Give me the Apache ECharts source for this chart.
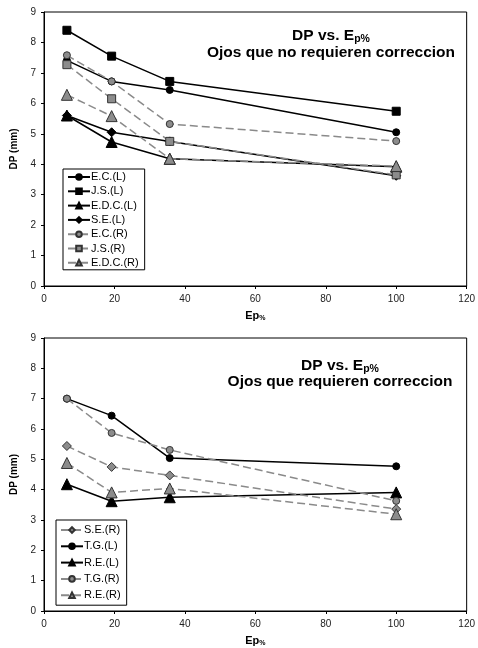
<!DOCTYPE html>
<html>
<head>
<meta charset="utf-8">
<script src="https://cdn.jsdelivr.net/npm/echarts@6/dist/echarts.min.js"></script>
<style>html,body{margin:0;padding:0;background:#fff}#c{width:478px;height:648px}</style>
</head>
<body>
<div id="c"></div>
<script>
// Shared x positions (Ep%)
var epX = [6.5, 19.2, 35.7, 100];
var xTicks = [0, 20, 40, 60, 80, 100, 120];
var yTicks = [0, 1, 2, 3, 4, 5, 6, 7, 8, 9];

// Top chart: Ojos que no requieren correccion
var ecL  = [7.41, 6.72, 6.44, 5.05];
var jsL  = [8.40, 7.55, 6.72, 5.74];
var edcL = [5.60, 4.73, 4.18, 3.92];
var seL  = [5.60, 5.05, 4.75, 3.62];
var ecR  = [7.58, 6.72, 5.32, 4.76];
var jsR  = [7.27, 6.15, 4.75, 3.65];
var edcR = [6.28, 5.58, 4.18, 3.94];

// Bottom chart: Ojos que requieren correccion
var seR2 = [5.44, 4.75, 4.47, 3.36];
var tgL  = [7.00, 6.44, 5.04, 4.77];
var reL  = [4.18, 3.62, 3.75, 3.91];
var tgR  = [7.00, 5.87, 5.31, 3.63];
var reR  = [4.88, 3.91, 4.04, 3.19];

var topNames = ['E.C.(L)','J.S.(L)','E.D.C.(L)','S.E.(L)','E.C.(R)','J.S.(R)','E.D.C.(R)'];
var botNames = ['S.E.(R)','T.G.(L)','R.E.(L)','T.G.(R)','R.E.(R)'];

function pts(vals){ return vals.map(function(v,i){ return [epX[i], v]; }); }
var symSize = {circle:7, rect:8, triangle:11, diamond:9};
function blackS(name, vals, sym, gi){
  return {type:'line', name:name, xAxisIndex:gi, yAxisIndex:gi, data:pts(vals),
    symbol:sym, symbolSize:symSize[sym], showSymbol:true,
    lineStyle:{color:'#000', width:1.5},
    itemStyle:{color:'#000', borderColor:'#000', borderWidth:1}, z:3, animation:false};
}
function greyS(name, vals, sym, gi){
  return {type:'line', name:name, xAxisIndex:gi, yAxisIndex:gi, data:pts(vals),
    symbol:sym, symbolSize:symSize[sym], showSymbol:true,
    lineStyle:{color:'#8a8a8a', width:1.5, type:[8,4]},
    itemStyle:{color:'#8c8c8c', borderColor:'#333', borderWidth:1}, z:4, animation:false};
}

var font = 'Liberation Sans, Arial, sans-serif';
function xAx(gi){
  return {type:'value', gridIndex:gi, min:0, max:120, interval:20,
    name:'Ep{s|%}', nameLocation:'middle', nameGap:23,
    nameTextStyle:{fontFamily:font, fontWeight:'bold', fontSize:11, color:'#000',
      rich:{s:{fontFamily:font, fontWeight:'bold', fontSize:7, color:'#000', verticalAlign:'bottom', padding:[6,0,0,0]}}},
    axisLine:{show:true, lineStyle:{color:'#000', width:1}},
    axisTick:{show:true, inside:false, length:3, lineStyle:{color:'#000'}},
    axisLabel:{fontFamily:font, fontSize:10, color:'#222', margin:8,
      formatter:function(v){ return xTicks.indexOf(v)>=0 ? String(v) : ''; }},
    splitLine:{show:false}};
}
function yAx(gi){
  return {type:'value', gridIndex:gi, min:0, max:9, interval:1,
    name:'DP (mm)', nameLocation:'middle', nameGap:25, nameRotate:90,
    nameTextStyle:{fontFamily:font, fontWeight:'bold', fontSize:10, color:'#000'},
    axisLine:{show:true, lineStyle:{color:'#000', width:1}},
    axisTick:{show:true, inside:false, length:3, lineStyle:{color:'#000'}},
    axisLabel:{fontFamily:font, fontSize:10, color:'#222', margin:8,
      formatter:function(v){ return yTicks.indexOf(v)>=0 ? String(v) : ''; }},
    splitLine:{show:false}};
}
function legendCfg(names, left, top, gap, pad, w){
  return {data:names, orient:'vertical', left:left, top:top, width:w,
    itemWidth:22, itemHeight:7, itemGap:gap, padding:pad,
    borderColor:'#000', borderWidth:1, backgroundColor:'#fff',
    textStyle:{fontFamily:font, fontSize:11, color:'#000', lineHeight:12, padding:[0,0,0,-4]},
    selectedMode:false};
}
var titleRich = {
  a:{fontFamily:font, fontWeight:'bold', fontSize:15.5, color:'#000'},
  s:{fontFamily:font, fontWeight:'bold', fontSize:10.5, color:'#000', verticalAlign:'bottom', padding:[8,0,0,0]}
};
function titleCfg(text, cx, top){
  return {text:text, left:cx, top:top, textAlign:'center', padding:0,
    textStyle:{fontFamily:font, fontWeight:'bold', fontSize:15.5, color:'#000', rich:titleRich}};
}

var series = [
  blackS('E.C.(L)', ecL, 'circle', 0),
  blackS('J.S.(L)', jsL, 'rect', 0),
  blackS('E.D.C.(L)', edcL, 'triangle', 0),
  blackS('S.E.(L)', seL, 'diamond', 0),
  greyS('E.C.(R)', ecR, 'circle', 0),
  greyS('J.S.(R)', jsR, 'rect', 0),
  greyS('E.D.C.(R)', edcR, 'triangle', 0),
  greyS('S.E.(R)', seR2, 'diamond', 1),
  blackS('T.G.(L)', tgL, 'circle', 1),
  blackS('R.E.(L)', reL, 'triangle', 1),
  greyS('T.G.(R)', tgR, 'circle', 1),
  greyS('R.E.(R)', reR, 'triangle', 1)
];

var chart = echarts.init(document.getElementById('c'), null, {renderer:'canvas'});
chart.setOption({
  animation:false,
  backgroundColor:'#fff',
  title:[
    titleCfg('{a|DP vs. E}{s|p%}', 331, 26),
    titleCfg('Ojos que no requieren correccion', 331, 45),
    titleCfg('{a|DP vs. E}{s|p%}', 340, 356),
    titleCfg('Ojos que requieren correccion', 340, 374)
  ],
  grid:[
    {left:44, right:8, top:12, height:274, show:true, borderColor:'#000', borderWidth:1, backgroundColor:'transparent'},
    {left:44, right:8, top:338, height:275, show:true, borderColor:'#000', borderWidth:1, backgroundColor:'transparent'}
  ],
  xAxis:[xAx(0), xAx(1)],
  yAxis:[yAx(0), yAx(1)],
  legend:[
    legendCfg(topNames, 63, 169, 2.3, [2,6,1,4], 80),
    legendCfg(botNames, 56, 520, 4.3, [4,6,4,4], 73)
  ],
  series:series
});
</script>
</body>
</html>
